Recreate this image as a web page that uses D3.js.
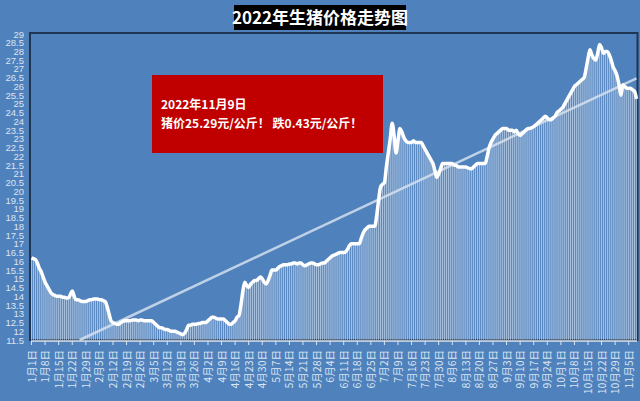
<!DOCTYPE html>
<html><head><meta charset="utf-8">
<script src="https://cdn.jsdelivr.net/npm/d3@7"></script>
<style>body{margin:0;background:#4f81bd;}svg{display:block;}</style>
</head><body><svg id="c" width="640" height="401"></svg>
<script>
const jan=[16.2,16.15,16.1,15.9,15.6,15.4,15.1,14.8,14.6,14.4,14.2,14.1,14.05,14.0,14.0,14.0,13.95,13.95,13.9,13.9,14.1,14.3,14.0,13.8,13.8,13.75,13.7,13.7,13.7,13.75,13.8];
const feb=[13.8,13.85,13.85,13.85,13.8,13.8,13.75,13.7,13.4,13.0,12.6,12.5,12.45,12.4,12.4,12.5,12.55,12.6,12.6,12.6,12.6,12.65,12.65,12.65,12.6,12.65,12.65,12.6];
const mar=[12.6,12.6,12.6,12.6,12.5,12.4,12.3,12.2,12.2,12.15,12.1,12.1,12.05,12.0,12.0,12.0,11.95,11.9,11.85,11.8,11.9,12.1,12.35,12.35,12.4,12.4,12.4,12.45,12.45,12.5,12.5];
const apr=[12.5,12.6,12.7,12.8,12.8,12.75,12.7,12.7,12.7,12.7,12.6,12.5,12.4,12.4,12.5,12.6,12.8,12.9,13.5,14.3,14.8,14.6,14.5,14.7,14.8,14.9,14.9,15.0,15.1,15.0];
const may=[14.8,14.7,14.9,15.2,15.5,15.5,15.5,15.6,15.7,15.75,15.8,15.8,15.8,15.85,15.85,15.9,15.9,15.85,15.9,15.9,15.8,15.75,15.8,15.85,15.9,15.9,15.85,15.8,15.8,15.85,15.9];
const jun=[15.9,16.0,16.1,16.2,16.3,16.35,16.4,16.45,16.5,16.5,16.5,16.55,16.7,16.9,17.0,17.0,17.0,17.0,17.0,17.3,17.6,17.8,17.9,18.0,18.0,18.0,18.0,18.6,19.5,20.25];
const jul=[20.4,20.5,21.4,22.2,23.0,23.9,23.2,22.2,22.9,23.6,23.4,23.1,22.9,22.8,22.8,22.8,22.9,22.8,22.8,22.8,22.8,22.6,22.4,22.2,22.0,21.8,21.6,21.2,20.8,21.0,21.3];
const aug=[21.6,21.6,21.6,21.6,21.6,21.6,21.5,21.5,21.4,21.4,21.4,21.4,21.4,21.35,21.3,21.3,21.4,21.5,21.6,21.6,21.6,21.6,21.6,22.0,22.5,22.8,23.0,23.2,23.3,23.4,23.5];
const sep=[23.6,23.6,23.6,23.5,23.5,23.5,23.4,23.5,23.3,23.2,23.3,23.4,23.5,23.6,23.6,23.65,23.7,23.8,23.9,24.0,24.1,24.2,24.3,24.2,24.1,24.1,24.2,24.3,24.5,24.6];
const oct=[24.7,24.8,25.0,25.2,25.4,25.6,25.8,26.0,26.1,26.2,26.3,26.4,26.5,27.0,27.6,28.1,27.8,27.6,27.5,27.9,28.4,28.2,27.9,28.0,28.0,27.8,27.5,27.1,26.9,26.6,26.1];
const nov=[25.5,26.1,26.0,25.9,25.9,25.9,25.8,25.72,25.29];
const months=[jan,feb,mar,apr,may,jun,jul,aug,sep,oct,nov];
const yTicks=d3.range(11.5,29.01,0.5);
const title="2022年生猪价格走势图";
const note1="2022年11月9日", note2="猪价25.29元/公斤！ 跌0.43元/公斤！";

const data=[];
months.forEach((arr,m)=>arr.forEach((v,i)=>data.push({label:(m+1)+"月"+(i+1)+"日",v})));
const svg=d3.select("#c");
const L=31,R=637,T=34,B=340;
const x=d3.scaleBand().domain(data.map((d,i)=>i)).range([L,R]).paddingInner(0.45);
const y=d3.scaleLinear().domain([11.5,29]).range([B,T]);
const cx=i=>x(i)+x.bandwidth()/2;

svg.append("rect").attr("x",0).attr("y",0).attr("width",640).attr("height",401).attr("fill","#4f81bd");
svg.append("rect").attr("x",L-1).attr("y",T-1).attr("width",R-L+1.5).attr("height",B-T+1).attr("fill","none").attr("stroke","#1f3552").attr("stroke-width",2);

svg.append("g").selectAll("rect").data(data).join("rect")
 .attr("x",(d,i)=>x(i)).attr("width",x.bandwidth()).attr("y",d=>y(d.v)).attr("height",d=>B-y(d.v))
 .attr("fill","#ffffff").attr("opacity",0.5);

const n=data.length, xs=d3.range(n), mx=d3.mean(xs), my=d3.mean(data,d=>d.v);
const k=d3.sum(xs,i=>(i-mx)*(data[i].v-my))/d3.sum(xs,i=>(i-mx)*(i-mx)), b0=my-k*mx;
const i0=(11.5-b0)/k;
svg.append("line").attr("x1",L+(i0+0.5)*x.step()).attr("y1",y(11.5)).attr("x2",cx(n-1)).attr("y2",y(b0+k*(n-1)))
 .attr("stroke","#dbe5f1").attr("stroke-width",2.5).attr("opacity",0.8);

svg.append("path").datum(data).attr("fill","none").attr("stroke","#fff").attr("stroke-width",3.5).attr("stroke-linejoin","round")
 .attr("d",d3.line().x((d,i)=>cx(i)).y(d=>y(d.v)).curve(d3.curveMonotoneX));

svg.append("line").attr("x1",L).attr("x2",R).attr("y1",B+1).attr("y2",B+1).attr("stroke","#dbe5f1").attr("stroke-width",1.5);
const wk=d3.range(0,n,7);
svg.append("g").selectAll("line").data(wk).join("line").attr("x1",i=>cx(i)).attr("x2",i=>cx(i)).attr("y1",B+1).attr("y2",B+5).attr("stroke","#dbe5f1");
svg.append("g").selectAll("text").data(wk).join("text")
 .attr("transform",i=>`translate(${cx(i)+4},${B+10}) rotate(-90)`).attr("text-anchor","end")
 .attr("fill","#dbe5f1").attr("font-size",10.5).attr("font-family","Noto Sans CJK SC").text(i=>data[i].label);
svg.append("g").selectAll("text").data(yTicks).join("text").attr("x",L-7).attr("y",d=>y(d)+3.5).attr("text-anchor","end")
 .attr("fill","#dbe5f1").attr("font-size",9.5).attr("font-family","Liberation Sans").text(d=>d);

svg.append("rect").attr("x",234).attr("y",5).attr("width",172).attr("height",25).attr("fill","#000");
svg.append("text").attr("x",320).attr("y",24).attr("text-anchor","middle").attr("fill","#fff").attr("font-size",17).attr("font-weight","bold").attr("font-family","Noto Sans CJK SC").text(title);
svg.append("rect").attr("x",152).attr("y",75).attr("width",231).attr("height",78).attr("fill","#c00000");
svg.append("text").attr("x",161).attr("y",109).attr("fill","#fff").attr("font-size",12).attr("font-weight","bold").attr("font-family","Noto Sans CJK SC").text(note1);
svg.append("text").attr("x",161).attr("y",128).attr("fill","#fff").attr("font-size",12).attr("font-weight","bold").attr("font-family","Noto Sans CJK SC").text(note2);
</script></body></html>
